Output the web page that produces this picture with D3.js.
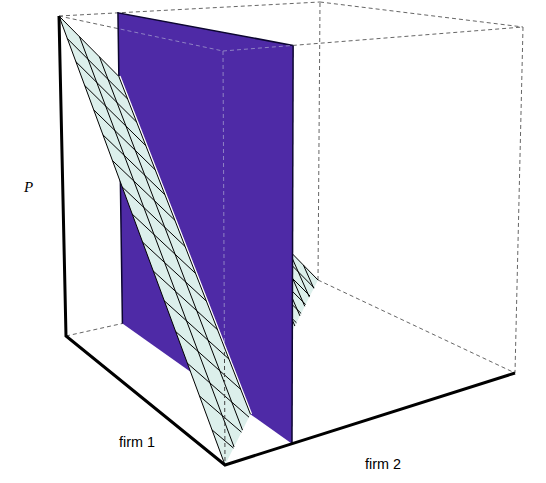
<!DOCTYPE html>
<html><head><meta charset="utf-8">
<script src="https://cdn.jsdelivr.net/npm/d3@7"></script>
<style>html,body{margin:0;padding:0;background:#fff}svg{display:block}</style>
</head><body><svg id="c" width="546" height="483"></svg>
<script>
// Data: payoff plane P = 1 - firm1 - firm2 and the wall firm2 = const
const firm1Grid = [0,0.0625,0.125,0.1875,0.25,0.3125,0.375,0.4375,0.5,0.5625,0.625,0.6875,0.75,0.8125,0.875,0.9375,1];
const firm2Grid = [0,0.0667,0.1333,0.2,0.2667,0.3333,0.4,0.4667,0.5333,0.6,0.6667,0.7333,0.8,0.8667,0.9333,1];
const wallFirm2 = 0.2;
const axisLabels = ["firm 1","firm 2","P"];

// Projection of the unit box, fitted from its corners on the picture
const L=[66,336],F=[225,465],R=[515,373],B=[318,280];
const TL=[59,16],TF=[223,51],TR=[523,27],TB=[320,2];
const depthK=0.97;
function quad(p00,p10,p11,p01){
  const dx1=p10[0]-p11[0],dy1=p10[1]-p11[1],dx2=p01[0]-p11[0],dy2=p01[1]-p11[1];
  const sx=p00[0]-p10[0]+p11[0]-p01[0],sy=p00[1]-p10[1]+p11[1]-p01[1];
  const D=dx1*dy2-dx2*dy1;
  const a=(sx*dy2-dx2*sy)/D,b=(dx1*sy-dy1*sx)/D;
  return (u,v)=>{
    const W=1+a*u+b*v;
    const f=i=>(p00[i]+(p10[i]*(1+a)-p00[i])*u+(p01[i]*(1+b)-p00[i])*v)/W;
    return [f(0),f(1)];
  };
}
const hBottom=quad(L,F,R,B),hTop=quad(TL,TF,TR,TB);
const su=d3.scaleLinear().domain([0,1]).range([0,1]);
const sv=d3.scaleLinear().domain([0,1]).range([0,1]);
const sw=d3.scaleLinear().domain([0,1]).range([0,1]);
function proj(a,b,c){
  const u=su(a),v=sv(b),w=sw(c);
  const pb=hBottom(u,v),pt=hTop(u,v);
  const W=(1-w)+depthK*w;
  return [0,1].map(i=>(pb[i]*(1-w)+pt[i]*depthK*w)/W);
}
const P=(a,b)=>1-a-b;
const line=d3.line();
const poly=pts=>line(pts.map(p=>proj(...p)))+"Z";
const seg=pts=>line(pts.map(p=>proj(...p)));
const svg=d3.select("#c");

const purple="#4e2aa6",teal="#dcefeb";
const c=wallFirm2;
const wall=poly([[0,c,1],[1,c,1],[1,c,0],[0,c,0]]);
const tealFront=poly([[0,0,1],[0,c,1-c],[1-c,c,0],[1,0,0]]);
const tealBack=poly([[0,c,1-c],[0,1,0],[1-c,c,0]]);
const defs=svg.append("defs");
defs.append("clipPath").attr("id","cw").append("path").attr("d",wall);
defs.append("clipPath").attr("id","ct").append("path").attr("d",tealFront);

const boxBack=[[[0,0,0],[0,1,0]],[[0,1,0],[1,1,0]],[[0,1,0],[0,1,1]],[[0,0,1],[0,1,1]],[[0,1,1],[1,1,1]],[[1,1,1],[1,1,0]]];
const boxFront=[[[0,0,1],[1,0,1]],[[1,0,1],[1,1,1]],[[1,0,1],[1,0,0]]];
function dashed(g,list,col,w){
  g.selectAll("path.d").data(list).join("path").attr("class","d").attr("d",seg)
   .attr("fill","none").attr("stroke",col).attr("stroke-width",w||1).attr("stroke-dasharray","4 3");
}
dashed(svg.append("g"),boxBack,"#666");
dashed(svg.append("g"),boxFront,"#666");

function mesh(g,vMin,vMax){
  firm2Grid.filter(v=>v>=vMin-1e-6&&v<=vMax+1e-6).forEach(v=>{
    g.append("path").attr("d",seg([[0,v,P(0,v)],[P(0,v),v,0]]));
  });
  firm1Grid.forEach(u=>{
    const top=Math.min(vMax,1-u);
    if(top<=vMin+1e-6) return;
    g.append("path").attr("d",seg([[u,vMin,P(u,vMin)],[u,top,P(u,top)]]));
  });
  g.attr("fill","none").attr("stroke","#000").attr("stroke-width",1);
}
// plane behind the wall
svg.append("path").attr("d",tealBack).attr("fill",teal);
mesh(svg.append("g"),c,1);

// wall
svg.append("path").attr("d",wall).attr("fill",purple);
svg.append("path").attr("d",seg([[0,c,0],[0,c,1],[1,c,1]])).attr("fill","none").attr("stroke","#0c0630").attr("stroke-width",1.5);
svg.append("path").attr("d",seg([[1,c,1],[1,c,0]])).attr("fill","none").attr("stroke","#0c0630").attr("stroke-width",1.5);
dashed(svg.append("g").attr("clip-path","url(#cw)"),boxFront,"#8f82c4");

// plane in front of the wall
svg.append("path").attr("d",seg([[0,c,1-c],[1-c,c,0]])).attr("fill","none").attr("stroke","#fff").attr("stroke-width",3.5);
svg.append("path").attr("d",tealFront).attr("fill",teal);
mesh(svg.append("g"),0,c);
dashed(svg.append("g").attr("clip-path","url(#ct)"),[boxFront[2]],"#444");

// solid axes
svg.append("path").attr("d",seg([[0,0,1],[0,0,0],[1,0,0],[1,1,0]]))
   .attr("fill","none").attr("stroke","#000").attr("stroke-width",3).attr("stroke-linejoin","miter");

const lab=(t,x,y,o)=>svg.append("text").text(t).attr("x",x).attr("y",y)
   .attr("font-family",o?"'Liberation Serif'":"'Liberation Sans'").attr("font-size",o?15:14.4)
   .attr("font-style",o?"italic":"normal").attr("fill","#000");
lab(axisLabels[0],119,447);
lab(axisLabels[1],365,469);
lab(axisLabels[2],24,192,true);
</script></body></html>
